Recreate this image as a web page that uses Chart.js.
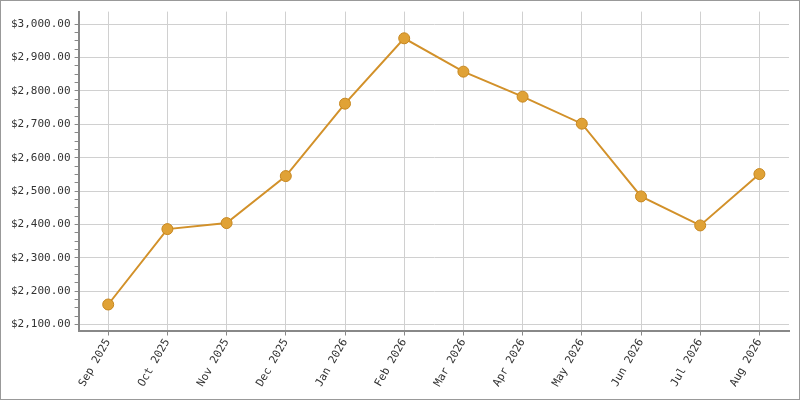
<!DOCTYPE html>
<html>
<head>
<meta charset="utf-8">
<script src="https://cdn.jsdelivr.net/npm/chart.js@4.4.1/dist/chart.umd.min.js"></script>
<style>
    html, body { margin: 0; padding: 0; background: #fff; }
    #wrap { width: 798px; height: 398px; border: 1px solid #999; position: relative; }
</style>
</head>
<body>
<div id="wrap"><canvas id="priceChart"></canvas></div>
<script>
const months = ['Sep 2025', 'Oct 2025', 'Nov 2025', 'Dec 2025', 'Jan 2026', 'Feb 2026',
    'Mar 2026', 'Apr 2026', 'May 2026', 'Jun 2026', 'Jul 2026', 'Aug 2026'];
const prices = [2160, 2386, 2404, 2545, 2762, 2958, 2858, 2783, 2702, 2484, 2397, 2551];
const yMin = 2082;
const yMax = 3038;

const ctx = document.getElementById('priceChart').getContext('2d');
new Chart(ctx, {
    type: 'line',
    data: {
        labels: months,
        datasets: [{
            data: prices,
            borderColor: '#d2912a',
            borderWidth: 2,
            pointBackgroundColor: '#e0a236',
            pointBorderColor: '#c7871f',
            pointBorderWidth: 1,
            pointRadius: 5.5,
            tension: 0,
            fill: false
        }]
    },
    options: {
        responsive: true,
        maintainAspectRatio: false,
        animation: false,
        layout: { padding: { left: 6, right: 10, top: 10, bottom: 9 } },
        plugins: {
            legend: { display: false },
            tooltip: { enabled: false }
        },
        scales: {
            x: {
                offset: true,
                grid: {
                    color: '#d0d0d0',
                    tickColor: '#888',
                    tickLength: 5,
                    offset: false
                },
                border: { color: '#888', width: 2 },
                ticks: {
                    color: '#333',
                    maxRotation: 60,
                    minRotation: 60,
                    padding: 1,
                    font: { family: "'DejaVu Sans Mono', monospace", size: 11 }
                }
            },
            y: {
                min: yMin,
                max: yMax,
                afterBuildTicks: (axis) => {
                    const list = [];
                    for (let v = 2100; v <= 3000; v += 25) list.push({ value: v });
                    axis.ticks = list;
                },
                grid: {
                    color: (c) => (c.tick && c.tick.value % 100 === 0) ? '#d0d0d0' : 'rgba(0,0,0,0)',
                    tickColor: '#888',
                    tickLength: 4
                },
                border: { color: '#888', width: 2 },
                ticks: {
                    color: '#333',
                    padding: 4,
                    autoSkip: false,
                    font: { family: "'DejaVu Sans Mono', monospace", size: 11 },
                    callback: function(value) {
                        if (value % 100 !== 0) return '';
                        return '$' + value.toLocaleString('en-US', { minimumFractionDigits: 2 });
                    }
                }
            }
        }
    }
});
</script>
</body>
</html>
